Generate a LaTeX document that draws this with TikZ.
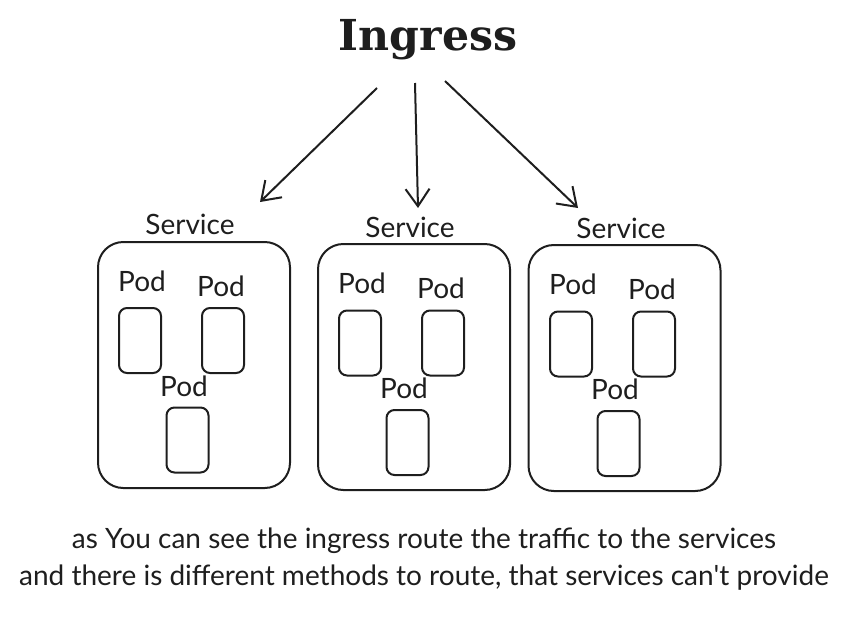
\documentclass[tikz,border=0pt]{standalone}
\usepackage{fontspec}
\setmainfont{Lato}
\newfontfamily\titlefont{DejaVu Serif}
\usetikzlibrary{arrows.meta}
\definecolor{ink}{HTML}{1E1E1E}
\begin{document}
\begin{tikzpicture}[x=0.75pt,y=-0.75pt,
  every node/.style={text=ink},
  svcbox/.style={draw=ink,line width=1.5pt,rounded corners=19pt,minimum width=144pt,minimum height=184.5pt,inner sep=0pt},
  podbox/.style={draw=ink,line width=1.5pt,rounded corners=6pt,minimum width=31.5pt,minimum height=48.75pt,inner sep=0pt},
  lbl/.style={font=\fontsize{21}{24}\selectfont,inner sep=0pt},
  conn/.style={draw=ink,line width=1.5pt,-{Straight Barb[length=13pt,width=18pt,line width=1.5pt]}}]
\useasboundingbox (0,0) rectangle (862,622);
\node[font=\titlefont\bfseries\fontsize{32}{34}\selectfont,inner sep=0pt] (ing) at (428,40) {Ingress};
% services
\node[svcbox] (s1) at (194,365) {};
\node[svcbox] (s2) at (414,367) {};
\node[svcbox] (s3) at (624.5,368) {};
\node[lbl] (l1) at (190,224) {Service};
\node[lbl] (l2) at (410,227) {Service};
\node[lbl] (l3) at (621,228) {Service};
% pods
\foreach \b/\dx/\dy in {1/0/0,2/220/2.5,3/431/3.5}{
  \node[podbox] (p\b a) at (140+\dx,340.5+\dy) {};
  \node[podbox] (p\b b) at (223+\dx,340.5+\dy) {};
  \node[podbox] (p\b c) at (187.5+\dx,440+\dy) {};
  \node[lbl] (t\b a) at (142+\dx,281+\dy) {Pod};
  \node[lbl] (t\b b) at (221+\dx,286+\dy) {Pod};
  \node[lbl] (t\b c) at (184+\dx,386+\dy) {Pod};
}
% arrows
\coordinate (a1s) at (377,88);
\coordinate (a1e) at (260,202);
\coordinate (a2s) at (415,83);
\coordinate (a2e) at (418,208);
\coordinate (a3s) at (445,81);
\coordinate (a3e) at (578,208);
\draw[conn] (a1s) -- (a1e);
\draw[conn] (a2s) -- (a2e);
\draw[conn] (a3s) -- (a3e);
% caption
\node[lbl] (c1) at (424,541) {as You can see the ingress route the traffic to the services};
\node[lbl] (c2) at (424,578) {and there is different methods to route, that services can\textquotesingle t provide};
\end{tikzpicture}
\end{document}
